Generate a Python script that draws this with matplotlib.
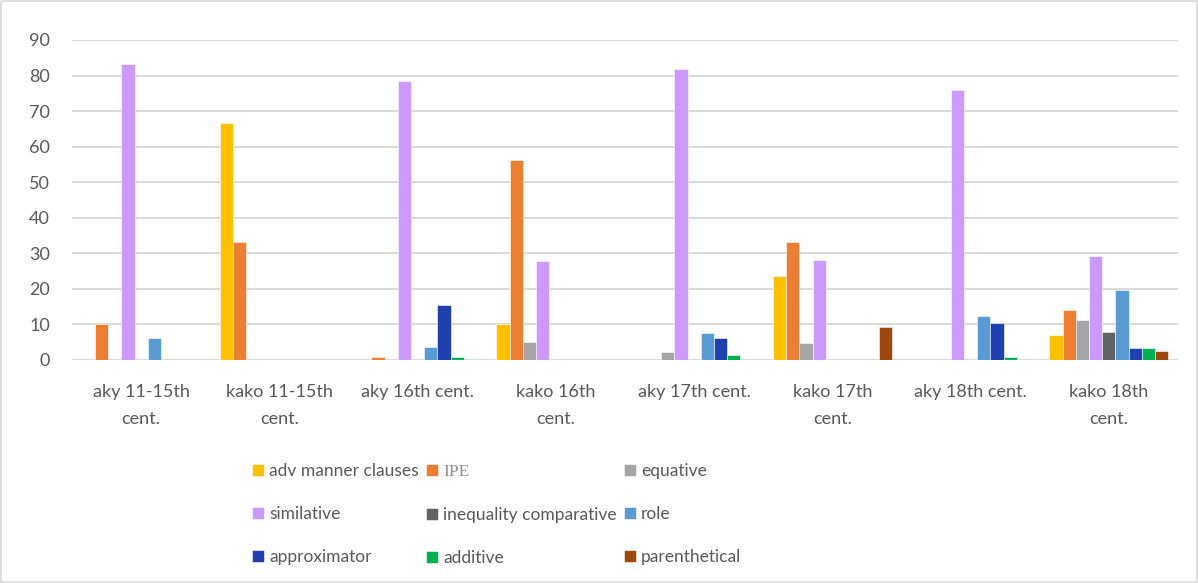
import numpy as np
import matplotlib.pyplot as plt
from matplotlib.patches import Rectangle

# Data
periods = ['aky 11-15th\ncent.', 'kako 11-15th\ncent.', 'aky 16th cent.', 'kako 16th\ncent.',
           'aky 17th cent.', 'kako 17th\ncent.', 'aky 18th cent.', 'kako 18th\ncent.']
series_names = ['adv manner clauses', 'IPE', 'equative', 'similative', 'inequality comparative',
                'role', 'approximator', 'additive', 'parenthetical']
adv_manner = [0, 66.7, 0, 10.1, 0, 23.7, 0, 7.1]
ipe = [10.0, 33.3, 0.8, 56.3, 0, 33.1, 0, 14.1]
equative = [0, 0, 0, 5.0, 2.3, 4.7, 0, 11.3]
similative = [83.3, 0, 78.4, 27.9, 81.9, 28.2, 76.0, 29.3]
inequality = [0, 0, 0, 0, 0, 0, 0, 7.8]
role = [6.1, 0, 3.6, 0, 7.5, 0, 12.4, 19.7]
approximator = [0, 0, 15.4, 0, 6.1, 0, 10.3, 3.3]
additive = [0, 0, 0.8, 0, 1.3, 0, 0.8, 3.3]
parenthetical = [0, 0, 0, 0, 0, 9.2, 0, 2.6]
colors = ['#FFC000', '#ED7D31', '#A5A5A5', '#CC99FF', '#636363',
          '#5B9BD5', '#1F40AE', '#00B050', '#9E480E']

values = [adv_manner, ipe, equative, similative, inequality, role, approximator, additive, parenthetical]

plt.rcParams['font.family'] = ['Lato', 'DejaVu Sans']
text_col = '#595959'

fig = plt.figure(figsize=(11.98, 5.83), dpi=100)
ax = fig.add_axes([72 / 1198, 1 - 360 / 583, 1106 / 1198, 320 / 583])

x = np.arange(len(periods))
n = len(values)
width = 0.86 / n
bars = []
for i, (name, vals, c) in enumerate(zip(series_names, values, colors)):
    b = ax.bar(x + (i - (n - 1) / 2) * width, vals, width, color=c, label=name,
               edgecolor='white', linewidth=0.4, zorder=3)
    bars.append(b)

ax.set_xlim(-0.5, len(periods) - 0.5)
ax.set_ylim(0, 90)
ax.set_yticks(np.arange(0, 91, 10))
ax.set_xticks(x)
ax.set_xticklabels(periods, fontsize=13, color=text_col, linespacing=1.85)
ax.tick_params(axis='y', labelsize=13, labelcolor=text_col, length=0, pad=16)
ax.tick_params(axis='x', length=0, pad=17)
ax.grid(axis='y', color='#D9D9D9', linewidth=1.4, zorder=0)
for s in ax.spines.values():
    s.set_visible(False)

# Legend laid out row by row in three columns
order = [0, 3, 6, 1, 4, 7, 2, 5, 8]
handles = [bars[i] for i in order]
labels = [series_names[i] for i in order]
leg = fig.legend(handles, labels, ncol=3, loc='upper left', bbox_to_anchor=(245 / 1198, 1 - 456 / 583),
                 frameon=False, fontsize=12.5, handlelength=0.7, handleheight=0.7, handletextpad=0.3,
                 columnspacing=0.4, labelspacing=1.55, borderaxespad=0)
for t in leg.get_texts():
    t.set_color(text_col)
    if t.get_text() == 'IPE':
        t.set_family(['Liberation Serif'])
        t.set_color('#909090')

# Outer frame
fig.patches.append(Rectangle((0.001, 0.001), 0.998, 0.997, transform=fig.transFigure,
                             fill=False, edgecolor='#D9D9D9', linewidth=1.2))

fig.savefig('out.png', dpi=100)
